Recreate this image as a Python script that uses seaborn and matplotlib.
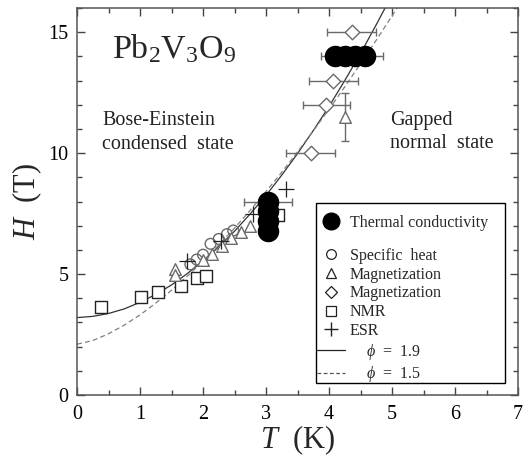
import numpy as np
import pandas as pd
import matplotlib
matplotlib.use("Agg")
import matplotlib.pyplot as plt
import seaborn as sns
from matplotlib.lines import Line2D
from matplotlib.patches import Rectangle
from matplotlib.ticker import MultipleLocator

# ---------------- data ----------------
tc_T = [3.03, 3.03, 3.03, 3.03, 4.10, 4.25, 4.41, 4.57]
tc_H = [8.0, 7.6, 7.2, 6.8, 14.0, 14.0, 14.0, 14.0]

sh_T = [1.80, 1.90, 2.00, 2.12, 2.25, 2.38, 2.48]
sh_H = [5.40, 5.60, 5.80, 6.25, 6.45, 6.65, 6.80]

mag1_T = [1.56, 1.56, 2.00, 2.15, 2.30, 2.45, 2.60, 2.75]
mag1_H = [5.20, 4.95, 5.60, 5.85, 6.15, 6.50, 6.75, 7.00]
mag1e_T = [4.26]
mag1e_H = [11.5]
mag1e_err = [1.0]

mag2_T = [3.71, 3.96, 4.07, 4.36]
mag2_H = [10.0, 12.0, 13.0, 15.0]
mag2_err = [0.39, 0.38, 0.39, 0.39]

nmr_T = [0.38, 1.02, 1.28, 1.65, 1.90, 2.04, 3.19]
nmr_H = [3.62, 4.04, 4.24, 4.50, 4.82, 4.90, 7.44]

esr_T = [1.74, 2.29, 2.80, 3.32]
esr_H = [5.55, 6.37, 7.47, 8.51]

# fit curves
fit_T = [0, 0.25, 0.5, 0.75, 1.0, 1.25, 1.5, 1.75, 2.0, 2.25, 2.5, 2.75,
         3.0, 3.25, 3.5, 3.75, 4.0, 4.25, 4.5, 4.75, 5.0, 5.25]
fit19_H = [3.20, 3.25, 3.37, 3.56, 3.83, 4.16, 4.55, 5.02, 5.54, 6.13, 6.77,
           7.49, 8.25, 9.09, 9.98, 10.93, 11.93, 13.00, 14.12, 15.31, 16.54, 17.8]
fit15_H = [2.10, 2.25, 2.53, 2.89, 3.31, 3.80, 4.33, 4.91, 5.53, 6.20, 6.90,
           7.64, 8.41, 9.21, 10.05, 10.92, 11.81, 12.74, 13.69, 14.67, 15.67, 16.70]

# error bars on thermal-conductivity points
tc_err_pts_T = [3.03]
tc_err_pts_H = [8.0]
tc_err_pts_x = [0.385]
tc_grp_T = [4.37]
tc_grp_H = [14.0]
tc_grp_x = [0.49]

legend_labels = ["Thermal conductivity", "Specific  heat", "Magnetization", "Magnetization",
                 "NMR", "ESR", "    $\\phi$  =  1.9", "    $\\phi$  =  1.5"]

# ---------------- style ----------------
sns.set_theme(style="ticks")
plt.rcParams["font.family"] = ["Liberation Serif", "DejaVu Serif"]
plt.rcParams["mathtext.fontset"] = "custom"
plt.rcParams["mathtext.rm"] = "Liberation Serif"
plt.rcParams["mathtext.it"] = "Liberation Serif:italic"
plt.rcParams["mathtext.bf"] = "Liberation Serif:bold"

W, Hpx = 529, 463
fig = plt.figure(figsize=(W/100, Hpx/100), dpi=100)
ax = fig.add_axes([77/W, 1-395/Hpx, (518-77)/W, (395-8)/Hpx])

gray = "#6a6a6a"
dark = "#222222"

# curves
sns.lineplot(x=fit_T, y=fit19_H, ax=ax, color="#333333", lw=0.9, sort=False, zorder=2)
sns.lineplot(x=fit_T, y=fit15_H, ax=ax, color="#808080", lw=0.9, ls=(0, (4, 2.5)), sort=False, zorder=2)

# error bars
eb = dict(fmt="none", ecolor=gray, elinewidth=1.0, capsize=3, capthick=1.0, zorder=3)
ax.errorbar(mag2_T, mag2_H, xerr=mag2_err, **eb)
ax.errorbar(mag1e_T, mag1e_H, yerr=mag1e_err, **eb)
ax.errorbar(tc_err_pts_T, tc_err_pts_H, xerr=tc_err_pts_x, **eb)
ax.errorbar(tc_grp_T, tc_grp_H, xerr=tc_grp_x, **eb)

# markers
sns.scatterplot(x=nmr_T, y=nmr_H, ax=ax, marker="s", s=70, facecolor="white",
                edgecolor=dark, linewidth=1.0, zorder=4)
sns.scatterplot(x=sh_T, y=sh_H, ax=ax, marker="o", s=60, facecolor="none",
                edgecolor=gray, linewidth=1.0, zorder=4)
sns.scatterplot(x=mag1_T + mag1e_T, y=mag1_H + mag1e_H, ax=ax, marker="^", s=70,
                facecolor="white", edgecolor=gray, linewidth=1.0, zorder=4)
sns.scatterplot(x=mag2_T, y=mag2_H, ax=ax, marker="D", s=55, facecolor="white",
                edgecolor=gray, linewidth=1.0, zorder=4)
ax.scatter(esr_T, esr_H, marker="+", s=120, color=dark, linewidths=0.9, zorder=4)
sns.scatterplot(x=tc_T, y=tc_H, ax=ax, marker="o", s=240, color="black",
                edgecolor="black", linewidth=0, zorder=5)

# axes
ax.set_xlim(0, 7)
ax.set_ylim(0, 16)
ax.xaxis.set_major_locator(MultipleLocator(1))
ax.xaxis.set_minor_locator(MultipleLocator(0.5))
ax.yaxis.set_major_locator(MultipleLocator(5))
ax.yaxis.set_minor_locator(MultipleLocator(1))
ax.tick_params(which="both", direction="in", top=True, right=True,
               colors="#444444", labelcolor="black", labelsize=14.5, width=1.0)
ax.tick_params(which="major", length=6)
ax.tick_params(which="minor", length=3.5)
ax.tick_params(axis="x", pad=7)
ax.tick_params(axis="y", pad=6)
for s in ax.spines.values():
    s.set_color("#555555")
    s.set_linewidth(1.1)

ax.set_xlabel("$T$  (K)", fontsize=22, labelpad=0)
ax.set_ylabel("$H$  (T)", fontsize=22, labelpad=3)

# annotations
ax.text(0.56, 14.3, "Pb$_2$V$_3$O$_9$", fontsize=24.5, va="center", ha="left")
ax.text(0.40, 10.85, "Bose-Einstein\ncondensed  state", fontsize=14.5, va="center",
        ha="left", linespacing=1.3, color=dark)
ax.text(4.97, 10.87, "Gapped\nnormal  state", fontsize=14.5, va="center",
        ha="left", linespacing=1.3, color=dark)

# legend: frame + two handle groups
frame = Rectangle((316/W, 1-383/Hpx), (505-316)/W, (383-203)/Hpx,
                  transform=fig.transFigure, facecolor="white", edgecolor="black",
                  linewidth=1.0, zorder=3)
fig.patches.append(frame)

h_tc = [Line2D([], [], ls="none", marker="o", ms=12, mfc="black", mec="black")]
h_rest = [
    Line2D([], [], ls="none", marker="o", ms=7, mfc="none", mec=dark, mew=0.9),
    Line2D([], [], ls="none", marker="^", ms=7, mfc="none", mec=dark, mew=0.9),
    Line2D([], [], ls="none", marker="D", ms=6, mfc="none", mec=dark, mew=0.9),
    Line2D([], [], ls="none", marker="s", ms=7, mfc="none", mec=dark, mew=0.9),
    Line2D([], [], ls="none", marker="+", ms=10, mec=dark, mew=1.0),
    Line2D([], [], color="#222222", lw=0.9),
    Line2D([], [], color="#555555", lw=0.9, ls=(0, (3, 2))),
]
common = dict(fontsize=11.5, frameon=False, handlelength=1.75, handletextpad=0.3,
              borderpad=0, borderaxespad=0, bbox_transform=fig.transFigure)
fig.legend(h_tc, legend_labels[:1], loc="center left",
           bbox_to_anchor=(317/W, 1-223/Hpx), **common)
fig.legend(h_rest, legend_labels[1:], loc="upper left", labelspacing=0.17,
           bbox_to_anchor=(317/W, 1-248/Hpx), **common)

fig.savefig("out.png", dpi=100)
